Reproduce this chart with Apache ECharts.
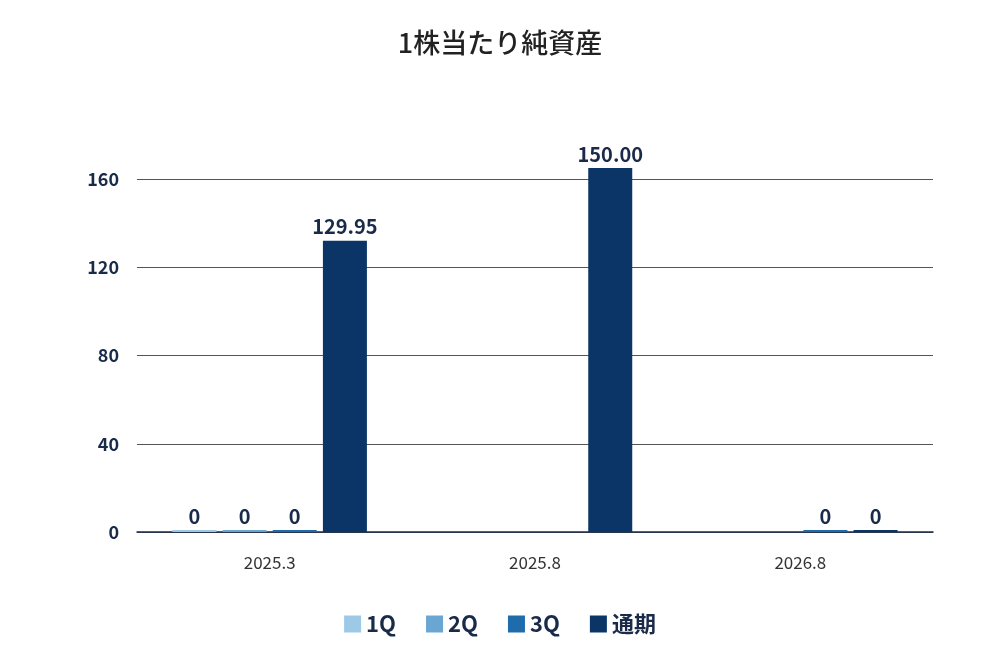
<!DOCTYPE html>
<html><head><meta charset="utf-8">
<script src="https://cdn.jsdelivr.net/npm/echarts@6/dist/echarts.min.js"></script>
<style>html,body{margin:0;background:#fff}#c{width:1000px;height:660px}</style>
</head><body><div id="c"></div>
<script>
var categories = ['2025.3', '2025.8', '2026.8'];
var seriesNames = ['1Q', '2Q', '3Q', '通期'];
var colors = ['#9cc9e6', '#6aa6d4', '#1f6cad', '#0b3566'];
// bar heights as drawn in the picture, and the labels printed on them
var q1 = [0, null, null];
var q2 = [0, null, null];
var q3 = [0, null, 0];
var full = [132, 165, 0];
var q1Labels = ['0', '', ''];
var q2Labels = ['0', '', ''];
var q3Labels = ['0', '', '0'];
var fullLabels = ['129.95', '150.00', '0'];
var yTicks = [0, 40, 80, 120, 160];

var font = '"Noto Sans CJK JP", "Noto Sans", sans-serif';
var values = [q1, q2, q3, full];
var labels = [q1Labels, q2Labels, q3Labels, fullLabels];

var myChart = echarts.init(document.getElementById('c'));
var option = {
    title: {
        text: '1株当たり純資産', left: 'center', top: 24,
        textStyle: { fontFamily: font, fontSize: 27, fontWeight: 500, color: '#222' }
    },
    legend: {
        bottom: 20, itemWidth: 17, itemHeight: 17, itemGap: 30, icon: 'rect',
        data: seriesNames,
        textStyle: { fontFamily: font, fontSize: 22, fontWeight: 'bold', color: '#1a2b4a' }
    },
    grid: { left: 137, right: 67, top: 157, bottom: 128 },
    xAxis: {
        type: 'category', data: categories,
        axisTick: { show: false },
        axisLine: { lineStyle: { color: '#1a2b4a', width: 1.5 } },
        axisLabel: { fontFamily: font, fontSize: 17, color: '#333', margin: 22 }
    },
    yAxis: {
        type: 'value', min: 0, max: 170, interval: 40,
        axisLabel: {
            fontFamily: font, fontSize: 18, fontWeight: 'bold', color: '#1a2b4a', margin: 18,
            formatter: function (v) { return yTicks.indexOf(v) >= 0 ? v : ''; }
        },
        splitLine: { showMaxLine: false, lineStyle: { color: '#555', width: 1 } }
    },
    series: seriesNames.map(function (n, i) {
        return {
            name: n, type: 'bar', data: values[i], barWidth: 44, barGap: '14%',
            barMinHeight: 2,
            itemStyle: { color: colors[i] },
            label: {
                show: true, position: 'top', distance: 4,
                fontFamily: font, fontSize: 20, fontWeight: 'bold', color: '#1a2b4a',
                formatter: function (p) { return labels[i][p.dataIndex]; }
            }
        };
    })
};
myChart.setOption(option);
</script></body></html>
